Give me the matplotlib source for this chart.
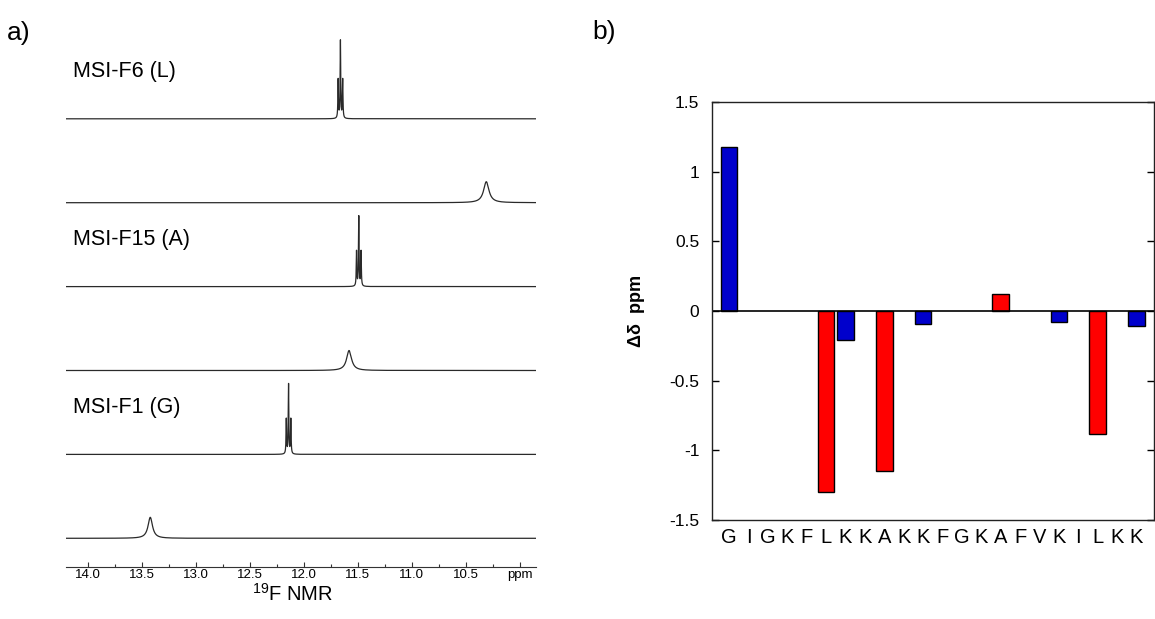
import numpy as np
import matplotlib
matplotlib.use("Agg")
import matplotlib.pyplot as plt

plt.rcParams['font.family'] = ['Liberation Sans', 'DejaVu Sans']
plt.rcParams['mathtext.fontset'] = 'custom'
plt.rcParams['mathtext.rm'] = 'Liberation Sans'

# --- panel a: 19F NMR spectra (top to bottom) ---
spec_labels = ["MSI-F6 (L)", "", "MSI-F15 (A)", "", "MSI-F1 (G)", ""]
peak_ppm = [11.66, 10.31, 11.49, 11.58, 12.14, 13.42]
peak_height = [79, 21, 71, 20, 71, 21]
peak_fwhm = [0.006, 0.06, 0.006, 0.055, 0.006, 0.05]
triplet_j = [0.021, 0.0, 0.021, 0.0, 0.021, 0.0]

# --- panel b: chemical shift differences ---
residues = list("GIGKFLKKAKKFGKAFVKILKK")
nan = np.nan
delta_ppm = [1.18, nan, nan, nan, nan, -1.30, -0.21, nan, -1.15, nan, -0.09,
             nan, nan, nan, 0.12, nan, nan, -0.08, nan, -0.88, nan, -0.11]
bar_colors = ['#0000cc', 'w', 'w', 'w', 'w', '#ff0000', '#0000cc', 'w', '#ff0000', 'w', '#0000cc',
              'w', 'w', 'w', '#ff0000', 'w', 'w', '#0000cc', 'w', '#ff0000', 'w', '#0000cc']

W, H = 1155, 619
fig = plt.figure(figsize=(W / 100, H / 100), dpi=100)

def lor(x, x0, fwhm):
    g = fwhm / 2
    return g * g / ((x - x0) ** 2 + g * g)

# left panel
axL = fig.add_axes([66 / W, (H - 566.7) / H, (536 - 66) / W, 566.7 / H])
x = np.linspace(9.85, 14.2, 40000)
n = len(peak_ppm)
for i in range(n):
    offset = 28.4 + 83.9 * (n - 1 - i)
    if triplet_j[i] > 0:
        y = (lor(x, peak_ppm[i] - triplet_j[i], peak_fwhm[i]) +
             2 * lor(x, peak_ppm[i], peak_fwhm[i]) +
             lor(x, peak_ppm[i] + triplet_j[i], peak_fwhm[i]))
    else:
        y = lor(x, peak_ppm[i], peak_fwhm[i])
    y = y / y.max() * peak_height[i]
    axL.plot(x, y + offset, color='#2a2a2a', lw=0.9)
    if spec_labels[i]:
        axL.text(14.0 - (73 - 87.7) / 107.4, offset + 47,
                 spec_labels[i], fontsize=15.5, va='center', ha='left')

axL.set_xlim(14.2, 9.85)
axL.set_ylim(0, 566.7)
for s in ['top', 'left', 'right']:
    axL.spines[s].set_visible(False)
axL.spines['bottom'].set_color('#333333')
axL.set_yticks([])
ticks = np.arange(10.0, 14.01, 0.5)
axL.set_xticks(ticks)
axL.set_xticklabels(['ppm'] + ['%.1f' % t for t in ticks[1:]], fontsize=9.5)
axL.set_xticks(np.arange(10.25, 14.0, 0.5), minor=True)
axL.tick_params(axis='x', which='major', direction='in', length=3.5, width=0.8, pad=1.5,
                colors='#333333', labelcolor='black')
axL.tick_params(axis='x', which='minor', direction='in', length=2, width=0.8, colors='#333333')
fig.text(293 / W, 1 - 594 / H, r"$^{19}$F NMR", fontsize=14.5, ha='center', va='center')

# right panel
axR = fig.add_axes([712 / W, (H - 520) / H, (1154 - 712) / W, (520 - 102) / H])
pos = np.arange(len(residues))
vals = np.array(delta_ppm)
has = ~np.isnan(vals)
axR.bar(pos[has], vals[has], width=0.86, color=[c for c, h in zip(bar_colors, has) if h],
        edgecolor='black', linewidth=1.0)
axR.axhline(0, color='black', lw=1.2)
axR.set_xlim(-0.88, 21.9)
axR.set_ylim(-1.5, 1.5)
axR.set_yticks([-1.5, -1, -0.5, 0, 0.5, 1, 1.5])
axR.set_yticklabels(['-1.5', '-1', '-0.5', '0', '0.5', '1', '1.5'], fontsize=12.5)
axR.set_xticks(pos)
axR.set_xticklabels(residues, fontsize=14.5)
axR.tick_params(axis='x', length=0, pad=6)
axR.tick_params(axis='y', direction='in', length=5, width=1, right=True, pad=9)
for s in axR.spines.values():
    s.set_linewidth(1.0)
    s.set_color('#222222')
axR.set_ylabel(u"\u0394\u03b4  ppm", fontsize=13, fontweight='bold')
axR.yaxis.set_label_coords(-0.152, 0.5)

fig.text(7 / W, 1 - 33 / H, "a)", fontsize=19, ha='left', va='center')
fig.text(592 / W, 1 - 32 / H, "b)", fontsize=19, ha='left', va='center')

fig.savefig("out.png", dpi=100)
